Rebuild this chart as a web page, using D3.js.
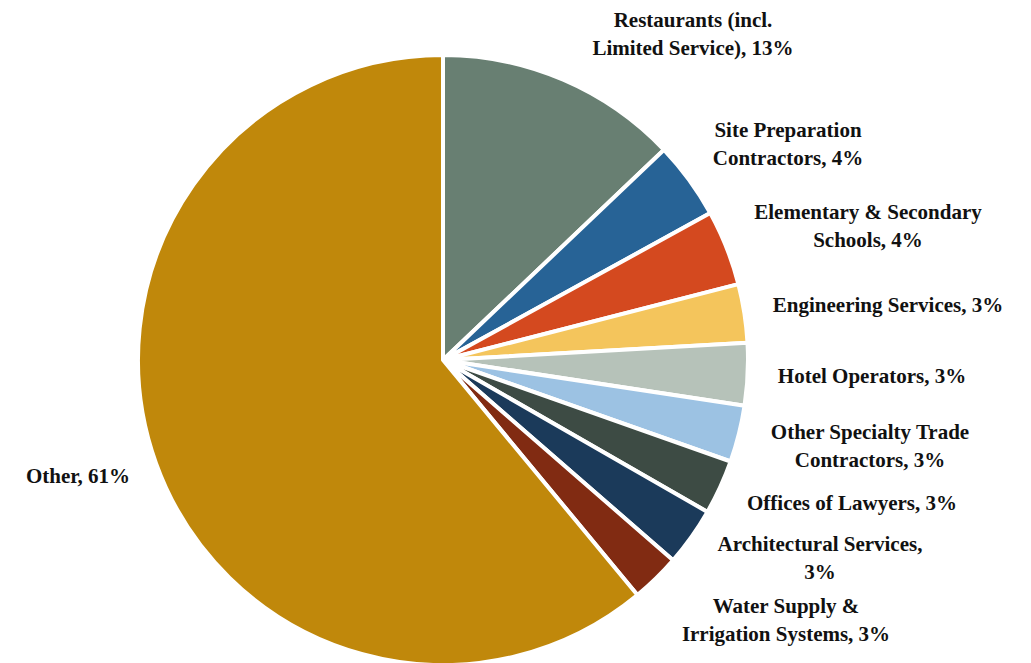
<!DOCTYPE html>
<html>
<head>
<meta charset="utf-8">
<script src="https://cdn.jsdelivr.net/npm/d3@7"></script>
<style>
  body { margin: 0; background: #fff; }
  text { font-family: "Liberation Serif", "DejaVu Serif", serif; font-weight: bold; font-size: 21px; fill: #111; }
</style>
</head>
<body>
<div id="chart"></div>
<script>
// industries, clockwise from 12 o'clock
const categories = [
  "Restaurants (incl.|Limited Service), 13%",
  "Site Preparation|Contractors, 4%",
  "Elementary & Secondary|Schools, 4%",
  "Engineering Services, 3%",
  "Hotel Operators, 3%",
  "Other Specialty Trade|Contractors, 3%",
  "Offices of Lawyers, 3%",
  "Architectural Services,|3%",
  "Water Supply &|Irrigation Systems, 3%",
  "Other, 61%"
];
const shares = [12.9, 4.1, 4.0, 3.1, 3.3, 3.0, 2.9, 3.1, 2.6, 61.0];
const colors = ["#687f72", "#276396", "#d4491f", "#f4c55c", "#b6c2b9",
                "#9cc2e3", "#3d4b44", "#1b3a5a", "#812b12", "#c0880b"];
// label centres (first line baseline), placed by hand like the original
const labelPos = [[693, 27], [788, 137], [868, 219], [888, 312], [872, 383],
                  [870, 439], [852, 510], [820, 551], [786, 613], [78, 483]];

const w = 1031, h = 663, r = 305, cx = 443, cy = 360;

const svg = d3.select("#chart").append("svg")
  .attr("width", w).attr("height", h);

const g = svg.append("g").attr("transform", "translate(" + cx + "," + cy + ")");

const pie = d3.pie().sort(null).value(d => d);
const arc = d3.arc().innerRadius(0).outerRadius(r);

g.selectAll("path")
  .data(pie(shares))
  .enter().append("path")
  .attr("d", arc)
  .attr("fill", (d, i) => colors[i])
  .attr("stroke", "#fff")
  .attr("stroke-width", 4)
  .attr("stroke-linejoin", "round");

const labels = svg.selectAll("text.lbl")
  .data(categories)
  .enter().append("text")
  .attr("class", "lbl")
  .attr("text-anchor", "middle")
  .attr("x", (d, i) => labelPos[i][0])
  .attr("y", (d, i) => labelPos[i][1]);

labels.each(function(d, i) {
  const lines = d.split("|");
  const t = d3.select(this);
  lines.forEach((ln, j) => {
    t.append("tspan")
      .attr("x", labelPos[i][0])
      .attr("dy", j === 0 ? 0 : 28)
      .text(ln);
  });
});
</script>
</body>
</html>
